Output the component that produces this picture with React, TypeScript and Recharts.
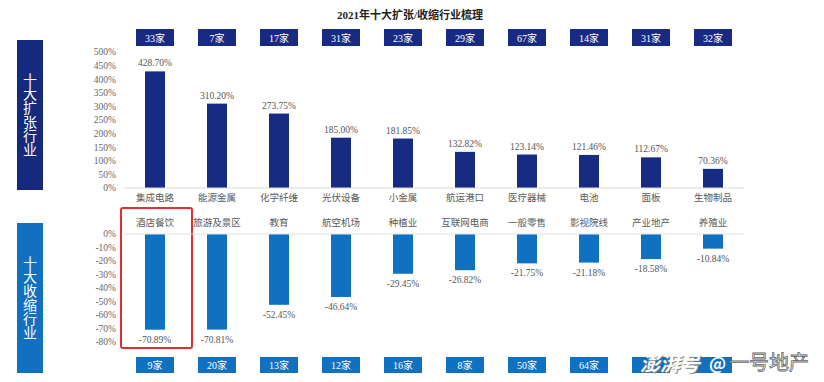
import { BarChart, Bar, XAxis, YAxis } from "recharts";

const growthNames = ["集成电路", "能源金属", "化学纤维", "光伏设备", "小金属", "航运港口", "医疗器械", "电池", "面板", "生物制品"];
const growthValues = [428.7, 310.2, 273.75, 185.0, 181.85, 132.82, 123.14, 121.46, 112.67, 70.36];
const growthCounts = ["33家", "7家", "17家", "31家", "23家", "29家", "67家", "14家", "31家", "32家"];

const declineNames = ["酒店餐饮", "旅游及景区", "教育", "航空机场", "种植业", "互联网电商", "一般零售", "影视院线", "产业地产", "养殖业"];
const declineValues = [-70.89, -70.81, -52.45, -46.64, -29.45, -26.82, -21.75, -21.18, -18.58, -10.84];
// last two counts are hidden under the watermark in the source
const declineCounts = ["9家", "20家", "13家", "12家", "16家", "8家", "50家", "64家", "", ""];

const growthTicks = [0, 50, 100, 150, 200, 250, 300, 350, 400, 450, 500];
const declineTicks = [0, -10, -20, -30, -40, -50, -60, -70, -80];

const NAVY = "#172b82";
const BLUE = "#1071c1";
const SERIF = "'Liberation Serif', 'Noto Sans CJK SC', serif";
const CJK = "'Noto Sans CJK SC', sans-serif";

const growthData = growthNames.map((name, i) => ({ name, value: growthValues[i] }));
const declineData = declineNames.map((name, i) => ({ name, value: declineValues[i] }));

const pct = (v: number) => `${v.toFixed(2)}%`;

function GrowthBar(props: any) {
  const { x, y, width, height, index } = props;
  const top = Math.min(y, y + height);
  const h = Math.abs(height);
  const cx = x + width / 2;
  return (
    <g>
      <rect x={x} y={top} width={width} height={h} fill={NAVY} />
      <text x={cx} y={top - 5} textAnchor="middle" fontSize={9.5} fill="#555" fontFamily={SERIF}>
        {pct(growthValues[index])}
      </text>
      <rect x={cx - 19} y={29} width={38} height={17} fill={NAVY} />
      <text x={cx} y={41.5} textAnchor="middle" fontSize={10} fill="#fff" fontFamily={SERIF}>
        {growthCounts[index]}
      </text>
    </g>
  );
}

function DeclineBar(props: any) {
  const { x, y, width, height, index } = props;
  const top = Math.min(y, y + height);
  const h = Math.abs(height);
  const bottom = top + h;
  const cx = x + width / 2;
  return (
    <g>
      <rect x={x} y={top} width={width} height={h} fill={BLUE} />
      <text x={cx} y={bottom + 13} textAnchor="middle" fontSize={9.5} fill="#555" fontFamily={SERIF}>
        {pct(declineValues[index])}
      </text>
      <rect x={cx - 19} y={157} width={38} height={16} fill={BLUE} />
      <text x={cx} y={169} textAnchor="middle" fontSize={10} fill="#fff" fontFamily={SERIF}>
        {declineCounts[index]}
      </text>
      {index === 0 && (
        <rect x={cx - 34} y={8} width={71} height={140} rx={2} fill="none" stroke="#e0302f" strokeWidth={2} />
      )}
    </g>
  );
}

function SideBox({ top, color, text }: { top: number; color: string; text: string }) {
  return (
    <div
      style={{
        position: "absolute",
        left: 17,
        top,
        width: 26,
        height: 150,
        background: color,
        display: "flex",
        alignItems: "center",
        justifyContent: "center",
      }}
    >
      <span
        style={{
          writingMode: "vertical-rl",
          textOrientation: "upright",
          color: "#fff",
          fontFamily: CJK,
          fontSize: 14,
          lineHeight: "26px",
          letterSpacing: 0,
        }}
      >
        {text}
      </span>
    </div>
  );
}

export default function App() {
  return (
    <div style={{ position: "absolute", left: 0, top: 0, width: 824, height: 382, background: "#fff", overflow: "hidden" }}>
      <div
        style={{
          position: "absolute",
          left: 0,
          top: 6,
          width: 820,
          textAlign: "center",
          fontFamily: SERIF,
          fontWeight: 700,
          fontSize: 11,
          color: "#222",
        }}
      >
        2021年十大扩张/收缩行业梳理
      </div>

      <SideBox top={40} color="#15297d" text="十大扩张行业" />
      <SideBox top={223} color="#1170c0" text="十大收缩行业" />

      <div style={{ position: "absolute", left: 0, top: 0 }}>
        <BarChart width={824} height={210} data={growthData} margin={{ top: 52, right: 80, left: 60, bottom: 2 }}>
          <XAxis
            dataKey="name"
            height={20}
            interval={0}
            tickLine={false}
            tickMargin={0}
            axisLine={{ stroke: "#d9d9d9" }}
            tick={{ fontSize: 9.5, fill: "#595959", fontFamily: CJK }}
          />
          <YAxis
            domain={[0, 500]}
            ticks={growthTicks}
            interval={0}
            width={64}
            axisLine={false}
            tickLine={false}
            tickFormatter={(v: number) => `${v}%`}
            tick={{ fontSize: 9.5, fill: "#666", fontFamily: SERIF }}
          />
          <Bar dataKey="value" barSize={20} fill={NAVY} isAnimationActive={false} shape={GrowthBar} />
        </BarChart>
      </div>

      <div style={{ position: "absolute", left: 0, top: 200 }}>
        <BarChart width={824} height={182} data={declineData} margin={{ top: 14, right: 80, left: 60, bottom: 40 }}>
          <XAxis
            dataKey="name"
            orientation="top"
            height={20}
            interval={0}
            tickLine={false}
            axisLine={{ stroke: "#e3e3e3" }}
            tick={{ fontSize: 9.5, fill: "#595959", fontFamily: CJK }}
          />
          <YAxis
            domain={[-80, 0]}
            ticks={declineTicks}
            interval={0}
            width={64}
            axisLine={false}
            tickLine={false}
            tickFormatter={(v: number) => `${v}%`}
            tick={{ fontSize: 9.5, fill: "#666", fontFamily: SERIF }}
          />
          <Bar dataKey="value" barSize={20} fill={BLUE} isAnimationActive={false} shape={DeclineBar} />
        </BarChart>
      </div>

      {/* watermark over the last boxes */}
      <div
        style={{
          position: "absolute",
          left: 640,
          top: 351,
          fontFamily: CJK,
          fontSize: 20,
          fontWeight: 700,
          fontStyle: "italic",
          color: "#fff",
          textShadow: "1px 1px 1px #777",
          lineHeight: "24px",
        }}
      >
        澎湃号
      </div>
      <div
        style={{
          position: "absolute",
          left: 709,
          top: 352,
          fontFamily: CJK,
          fontSize: 17,
          fontWeight: 700,
          color: "#fff",
          lineHeight: "22px",
        }}
      >
        @
      </div>
      <div
        style={{
          position: "absolute",
          left: 729,
          top: 350,
          fontFamily: CJK,
          fontSize: 20,
          color: "#fff",
          WebkitTextStroke: "0.8px #666",
          lineHeight: "24px",
        }}
      >
        一号地产
      </div>
    </div>
  );
}
